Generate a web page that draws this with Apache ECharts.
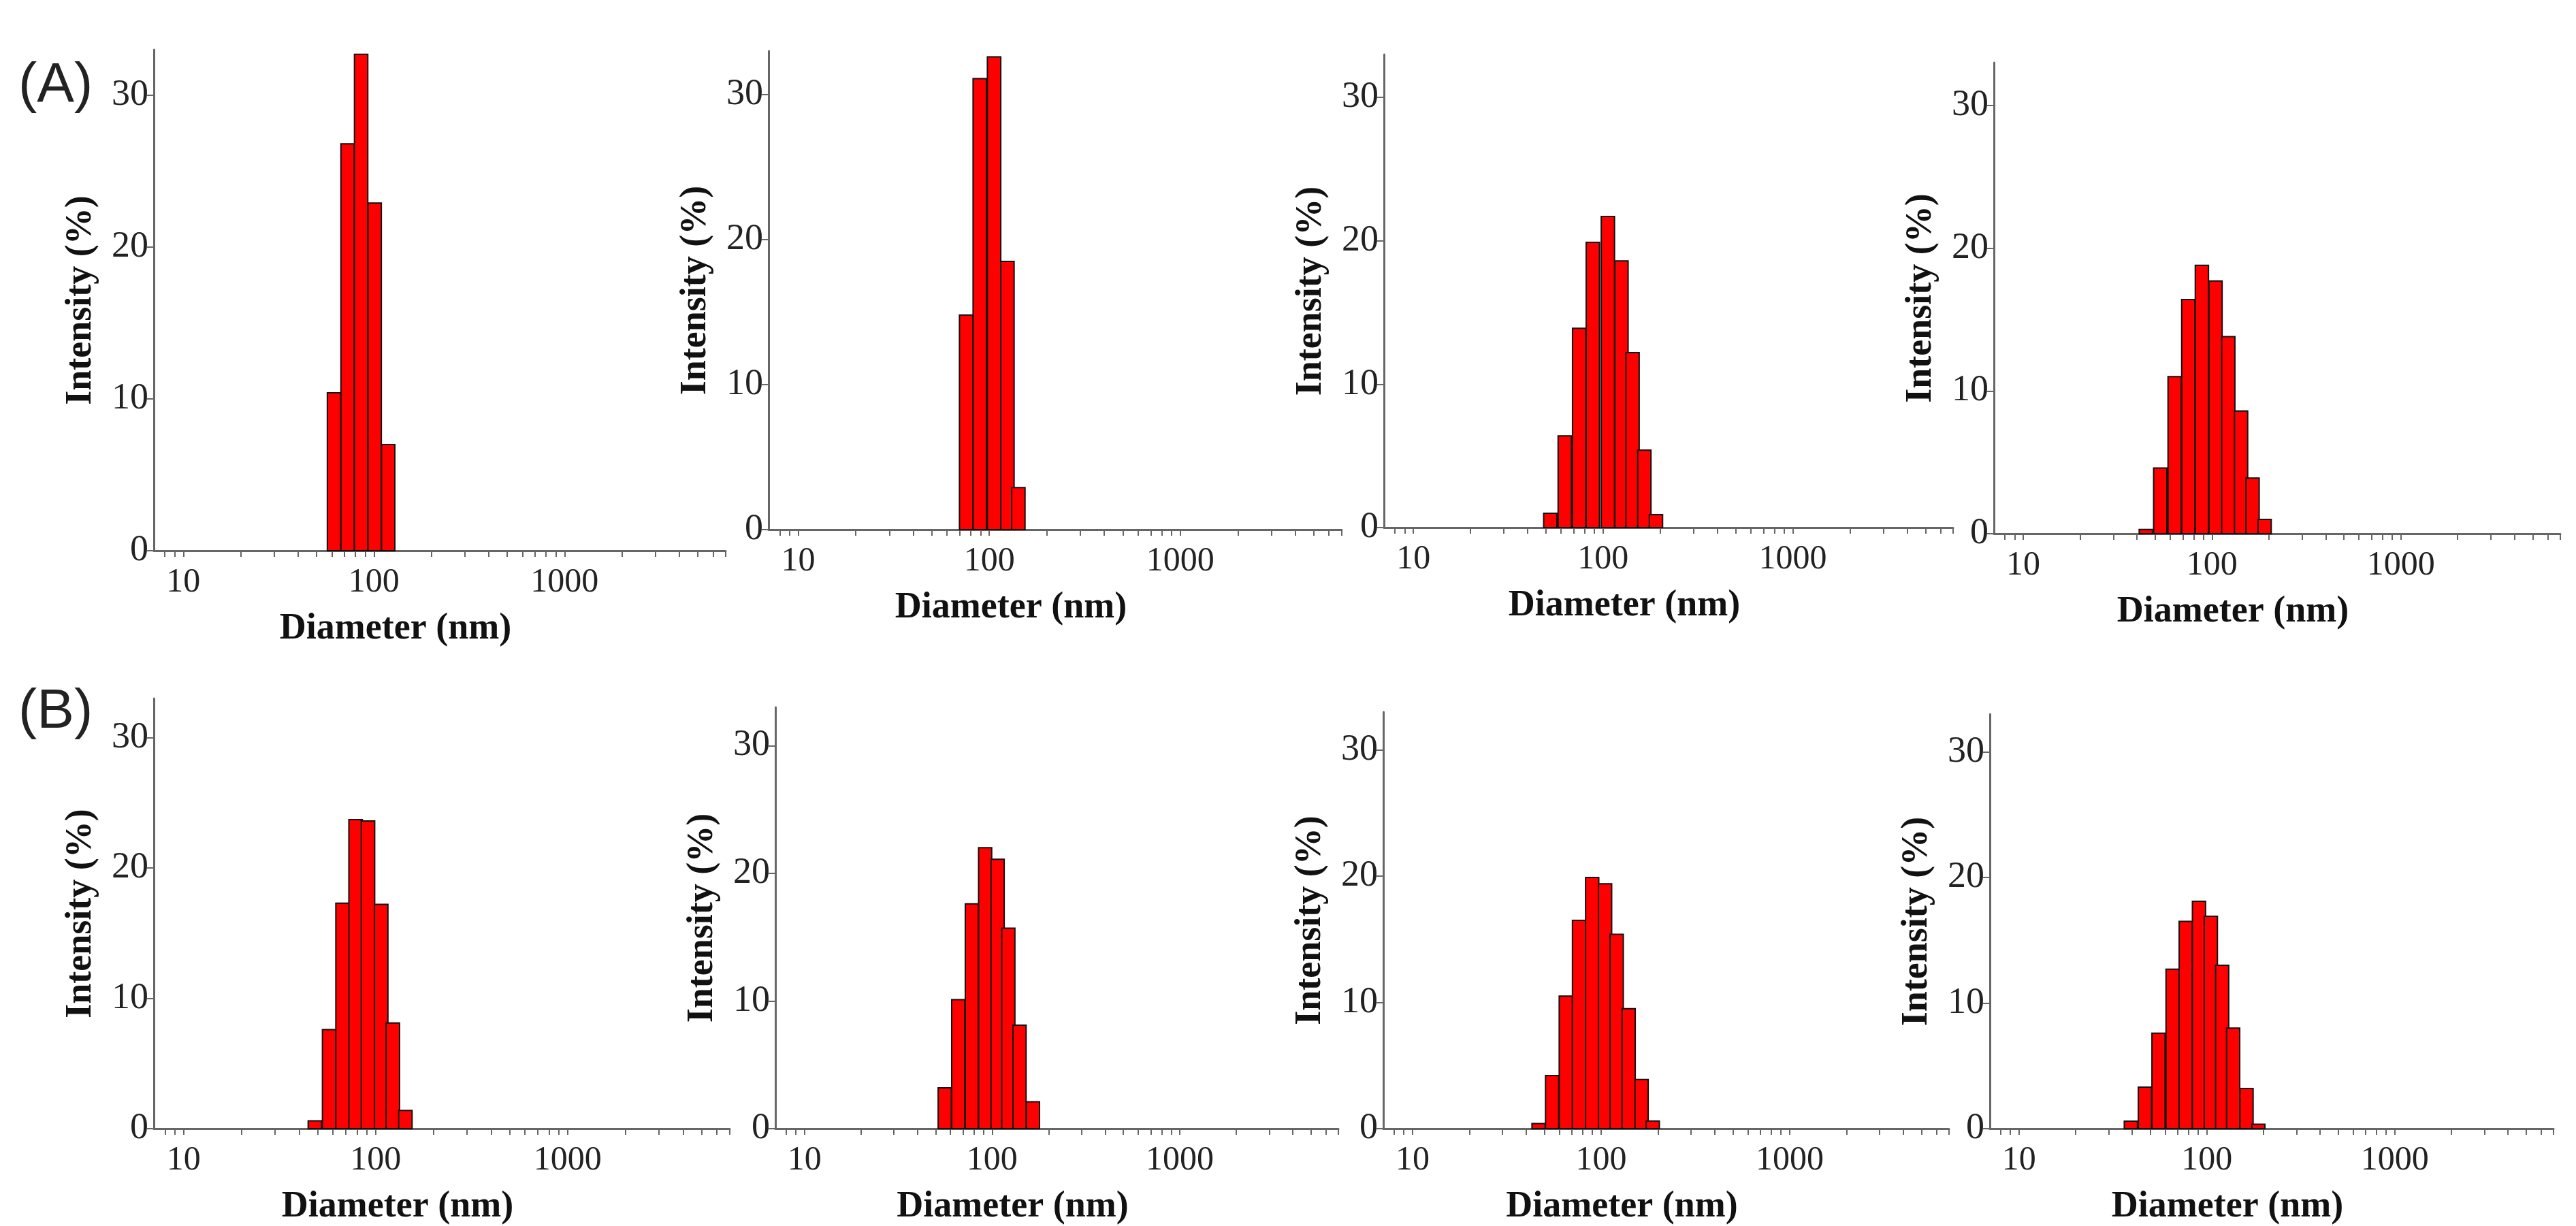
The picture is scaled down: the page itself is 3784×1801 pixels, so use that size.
<!DOCTYPE html>
<html>
<head>
<meta charset="utf-8">
<script src="https://cdn.jsdelivr.net/npm/echarts@6/dist/echarts.min.js"></script>
<style>
  html, body { margin: 0; padding: 0; background: #fff; }
  #chart { width: 3784px; height: 1801px; }
</style>
</head>
<body>
<div id="chart"></div>
<script>
// bin centre diameters (nm) and intensities (%)
const a1Size = [61.7, 72.7, 85.6, 100.8, 118.7];
const a1Int  = [10.4, 26.8, 32.7, 22.9, 7.0];
const a2Size = [75.7, 89.2, 106, 124.5, 142];
const a2Int  = [14.8, 31.1, 32.6, 18.5, 2.9];
const a3Size = [52.7, 62.8, 74.8, 88.3, 106, 125, 143, 165, 190];
const a3Int  = [1.0, 6.4, 13.9, 19.9, 21.7, 18.6, 12.2, 5.4, 0.9];
const a4Size = [44.6, 53.2, 63.4, 74.9, 88.4, 104.4, 122, 142.6, 164, 190];
const a4Int  = [0.3, 4.6, 11.0, 16.4, 18.8, 17.7, 13.8, 8.6, 3.9, 1.0];
const b1Size = [48.3, 57.3, 67.3, 78.7, 91.3, 107, 123, 143];
const b1Int  = [0.6, 7.6, 17.3, 23.7, 23.6, 17.2, 8.1, 1.4];
const b2Size = [55.9, 66, 78, 91.8, 107, 122, 140, 165];
const b2Int  = [3.2, 10.1, 17.6, 22.0, 21.1, 15.7, 8.1, 2.1];
const b3Size = [46.6, 55, 65, 76.4, 89.7, 105, 121, 140, 164, 188];
const b3Int  = [0.4, 4.2, 10.5, 16.5, 19.9, 19.4, 15.4, 9.5, 3.9, 0.6];
const b4Size = [39.4, 46.8, 55.3, 65.7, 77.2, 90.8, 105, 120.6, 138, 162.6, 188];
const b4Int  = [0.6, 3.3, 7.6, 12.7, 16.5, 18.1, 16.9, 13.0, 8.0, 3.2, 0.35];

const panels = [
  [a1Size, a1Int], [a2Size, a2Int], [a3Size, a3Int], [a4Size, a4Int],
  [b1Size, b1Int], [b2Size, b2Int], [b3Size, b3Int], [b4Size, b4Int]
];

const xMajor = [10, 100, 1000];
const xTicks = [8, 9, 10, 20, 30, 40, 50, 60, 70, 80, 90, 100, 200, 300, 400, 500, 600, 700, 800, 900,
  1000, 2000, 3000, 4000, 5000, 6000, 7000];
const yTicks = [0, 10, 20, 30];

// [left, top, width, height] of each plot area
const gridBoxes = [
  [226, 73, 840, 736], [1129, 75, 842, 703], [2033, 80, 836, 695], [2929, 92, 832, 692],
  [226, 1026, 846, 742], [1139, 1039, 827, 691], [2032, 1046, 831, 691], [2923, 1049, 828, 686]
];

const halfBin = Math.pow(10, 0.035);
const serif = 'Liberation Serif';
const axisColor = '#666';

const chart = echarts.init(document.getElementById('chart'));

const grid = gridBoxes.map(b => ({ left: b[0], top: b[1], width: b[2], height: b[3] }));

const xAxis = gridBoxes.map((b, i) => ({
  gridIndex: i,
  type: 'log',
  logBase: 10,
  min: 7,
  max: 7000,
  name: 'Diameter (nm)',
  nameLocation: 'middle',
  nameGap: 88,
  nameTextStyle: { fontFamily: serif, fontWeight: 'bold', fontSize: 54, color: '#111', padding: [0, 130, 0, 0] },
  axisLine: { onZero: false, lineStyle: { color: axisColor, width: 3 } },
  axisTick: { customValues: xTicks, length: 9, lineStyle: { color: axisColor, width: 2 } },
  minorTick: { show: false },
  axisLabel: {
    customValues: xMajor, fontFamily: serif, fontSize: 50, color: '#222', margin: 22,
    formatter: v => String(Math.round(v))
  },
  splitLine: { show: false }
}));

const yAxis = gridBoxes.map((b, i) => ({
  gridIndex: i,
  type: 'value',
  min: 0,
  max: 33,
  name: 'Intensity (%)',
  nameLocation: 'middle',
  nameGap: 80,
  nameTextStyle: { fontFamily: serif, fontWeight: 'bold', fontSize: 54, color: '#111' },
  axisLine: { show: true, onZero: false, lineStyle: { color: axisColor, width: 3 } },
  axisTick: { show: true, customValues: yTicks, length: 10, lineStyle: { color: axisColor, width: 2 } },
  axisLabel: { customValues: yTicks, fontFamily: serif, fontSize: 54, color: '#222', margin: 8 },
  splitLine: { show: false }
}));

const series = panels.map((p, i) => ({
  type: 'custom',
  xAxisIndex: i,
  yAxisIndex: i,
  data: p[0].map((d, k) => [d, p[1][k]]),
  renderItem(params, api) {
    const d = api.value(0);
    const lo = api.coord([d / halfBin, 0]);
    const hi = api.coord([d * halfBin, api.value(1)]);
    return {
      type: 'rect',
      shape: { x: lo[0], y: hi[1], width: hi[0] - lo[0], height: lo[1] - hi[1] },
      style: { fill: '#ff0000', stroke: '#111', lineWidth: 2 }
    };
  }
}));

chart.setOption({
  backgroundColor: '#fff',
  animation: false,
  title: [
    { text: '(A)', left: 22, top: 80, textStyle: { fontFamily: 'Liberation Sans', fontWeight: 'normal', fontSize: 82, color: '#222' } },
    { text: '(B)', left: 22, top: 1000, textStyle: { fontFamily: 'Liberation Sans', fontWeight: 'normal', fontSize: 82, color: '#222' } }
  ],
  grid,
  xAxis,
  yAxis,
  series
});
</script>
</body>
</html>
